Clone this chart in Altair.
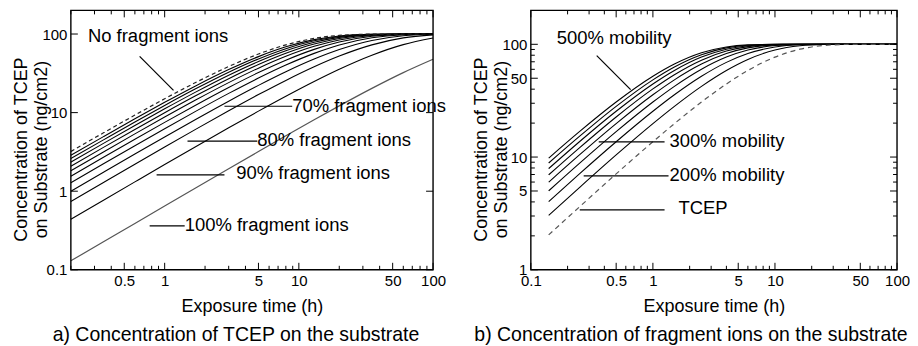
import altair as alt
import pandas as pd

FONT = "Liberation Sans"

# ---------------- left panel: TCEP on substrate ----------------
t_left = [0.2, 0.35, 0.6, 1, 1.7, 3, 5, 8, 13, 20, 35, 60, 100]
no_frag = [3.2, 5.53, 9.30, 15.01, 24.15, 38.60, 55.65, 72.77, 87.92, 96.13, 99.66, 100, 100]
frag000 = [2.86, 4.95, 8.34, 13.51, 21.86, 35.29, 51.59, 68.68, 84.84, 94.51, 99.38, 99.98, 100]
frag010 = [2.6, 4.50, 7.60, 12.34, 20.06, 32.64, 48.24, 65.13, 81.95, 92.82, 99.00, 99.96, 100]
frag020 = [2.34, 4.059, 6.86, 11.17, 18.23, 29.90, 44.68, 61.22, 78.55, 90.63, 98.41, 99.92, 100]
frag030 = [2.08, 3.612, 6.11, 9.98, 16.36, 27.04, 40.87, 56.86, 74.50, 87.78, 97.47, 99.82, 100]
frag040 = [1.82, 3.163, 5.361, 8.77, 14.45, 24.08, 36.82, 52.03, 69.70, 84.07, 95.98, 99.60, 100]
frag050 = [1.55, 2.697, 4.579, 7.51, 12.43, 20.89, 32.33, 46.47, 63.78, 79.03, 93.50, 99.08, 99.96]
frag060 = [1.28, 2.229, 3.791, 6.24, 10.37, 17.57, 27.53, 40.27, 56.71, 72.42, 89.50, 97.90, 99.84]
frag070 = [1.0, 1.743, 2.970, 4.901, 8.19, 13.99, 22.21, 33.10, 47.96, 63.40, 82.77, 95.10, 99.34]
frag080 = [0.74, 1.291, 2.204, 3.646, 6.12, 10.54, 16.95, 25.70, 38.30, 52.42, 72.75, 89.23, 97.56]
frag090 = [0.44, 0.7688, 1.314, 2.181, 3.679, 6.40, 10.44, 16.17, 24.92, 35.66, 53.78, 73.36, 88.97]
frag100 = [0.13, 0.2272, 0.3892, 0.6479, 1.099, 1.931, 3.198, 5.067, 8.10, 12.19, 20.35, 32.29, 47.80]

left_solid = {"0%": frag000, "10%": frag010, "20%": frag020, "30%": frag030, "40%": frag040,
              "50%": frag050, "60%": frag060, "70%": frag070, "80%": frag080, "90%": frag090}

# ---------------- right panel: fragment ions on substrate ----------------
t_right = [0.14, 0.25, 0.5, 1, 1.5, 2.5, 4, 6, 10, 16, 25, 40, 100]
tcep = [2.04, 3.61, 7.09, 13.67, 19.79, 30.75, 44.46, 58.6, 77.0, 90.5, 97.5, 99.72, 100]
mob150 = [3.04, 5.36, 10.44, 19.79, 28.16, 42.38, 58.6, 73.4, 89.0, 97.1, 99.6, 99.99, 100]
mob200 = [4.03, 7.09, 13.67, 25.47, 35.66, 52.05, 69.15, 82.87, 94.7, 99.1, 99.94, 100, 100]
mob250 = [5.01, 8.78, 16.79, 30.75, 42.38, 60.1, 77.0, 89.0, 97.47, 99.72, 99.99, 100, 100]
mob300 = [5.99, 10.44, 19.79, 35.66, 48.39, 66.8, 82.87, 92.9, 98.78, 99.91, 100, 100, 100]
mob350 = [6.95, 12.07, 22.68, 40.22, 53.78, 72.37, 87.23, 95.44, 99.42, 99.97, 100, 100, 100]
mob400 = [7.90, 13.67, 25.47, 44.46, 58.6, 77.0, 90.48, 97.07, 99.72, 100, 100, 100, 100]
mob450 = [8.85, 15.24, 28.16, 48.39, 62.93, 80.87, 92.9, 98.11, 99.87, 100, 100, 100, 100]
mob500 = [9.78, 16.79, 30.75, 52.05, 66.8, 84.08, 94.71, 98.78, 99.94, 100, 100, 100, 100]

right_solid = {"150%": mob150, "200%": mob200, "250%": mob250, "300%": mob300, "350%": mob350,
               "400%": mob400, "450%": mob450, "500%": mob500}

# ---------------- annotations ----------------
left_labels = ["No fragment ions", "70% fragment ions", "80% fragment ions", "90% fragment ions", "100% fragment ions"]
left_label_x = [0.268, 8.92, 4.90, 3.42, 1.41]
left_label_y = [93, 12.05, 4.5, 1.72, 0.37]
left_lead_x1 = [0.651, 2.79, 1.48, 0.871, 0.773]
left_lead_x2 = [1.164, 8.92, 4.90, 2.79, 1.41]
left_lead_y1 = [51.9, 12.05, 4.34, 1.61, 0.363]
left_lead_y2 = [19.2, 12.05, 4.34, 1.61, 0.363]

right_labels = ["500% mobility", "300% mobility", "200% mobility", "TCEP"]
right_label_x = [0.163, 1.37, 1.37, 1.62]
right_label_y = [114.7, 13.9, 7.0, 3.5]
right_lead_x1 = [0.3465, 0.36, 0.271, 0.2516]
right_lead_x2 = [0.657, 1.246, 1.343, 1.246]
right_lead_y1 = [79.4, 13.65, 6.81, 3.40]
right_lead_y2 = [39.6, 13.65, 6.81, 3.40]

# ---------------- ticks ----------------
left_x_major = [0.5, 1, 5, 10, 50, 100]
left_x_minor = [0.2, 0.3, 0.4, 0.6, 0.7, 0.8, 0.9, 2, 3, 4, 6, 7, 8, 9, 20, 30, 40, 60, 70, 80, 90]
left_y_major = [0.1, 1, 10, 100]
left_y_minor = []
right_x_major = [0.1, 0.5, 1, 5, 10, 50, 100]
right_x_minor = [0.2, 0.3, 0.4, 0.6, 0.7, 0.8, 0.9, 2, 3, 4, 6, 7, 8, 9, 20, 30, 40, 60, 70, 80, 90]
right_y_major = [1, 5, 10, 50, 100]
right_y_minor = [2, 3, 4, 6, 7, 8, 9, 20, 30, 40, 60, 70, 80, 90]

XTITLE = "Exposure time (h)"
YTITLE = ["Concentration of TCEP", "on Substrate (ng/cm2)"]


def long_df(t, series):
    rows = []
    for name, vals in series.items():
        for tt, v in zip(t, vals):
            rows.append({"t": tt, "c": v, "s": name})
    return pd.DataFrame(rows)


def panel(W, H, xdom, ydom, xvals, yvals, solid, dashed, gray, dash_color, dash_pattern,
          labels, lx, ly, lx1, lx2, ly1, ly2, xmaj, xmin, ymaj, ymin, caption, cap_dx, t):
    xs = alt.Scale(type="log", domain=xdom, nice=False)
    ys = alt.Scale(type="log", domain=ydom, nice=False)
    xaxis = alt.Axis(values=xvals, format="~g", title=XTITLE, grid=False, domain=False, ticks=False,
                     tickSize=0, labelPadding=4, labelFlush=False, labelOverlap=False,
                     labelFont=FONT, labelFontSize=15, labelColor="black",
                     titleFont=FONT, titleFontSize=18, titleFontWeight="normal", titleColor="black",
                     titleY=28, titleX=W / 2, titleBaseline="top", titleAlign="center")
    yaxis = alt.Axis(values=yvals, format="~g", title=YTITLE, grid=False, domain=False, ticks=False,
                     tickSize=0, labelPadding=4, labelFlush=False, labelOverlap=False,
                     labelFont=FONT, labelFontSize=15, labelColor="black",
                     titleFont=FONT, titleFontSize=18, titleFontWeight="normal", titleColor="black",
                     titleX=-40, titleY=H / 2 + 9, titleAngle=270, titleBaseline="bottom",
                     titleAlign="center", titleLineHeight=20)

    def X(f):
        return alt.X(f, type="quantitative", scale=xs, axis=xaxis)

    def Y(f):
        return alt.Y(f, type="quantitative", scale=ys, axis=yaxis)

    layers = []
    df_solid = long_df(t, solid)
    layers.append(alt.Chart(df_solid).mark_line(color="black", strokeWidth=1.1, interpolate="monotone")
                  .encode(x=X("t"), y=Y("c"), detail="s:N"))
    if gray is not None:
        layers.append(alt.Chart(long_df(t, {"g": gray})).mark_line(color="#555555", strokeWidth=1.2,
                                                                   interpolate="monotone")
                      .encode(x=X("t"), y=Y("c")))
    layers.append(alt.Chart(long_df(t, {"d": dashed})).mark_line(color=dash_color, strokeWidth=1.2,
                                                                 strokeDash=dash_pattern,
                                                                 interpolate="monotone")
                  .encode(x=X("t"), y=Y("c")))

    ann = pd.DataFrame({"label": labels, "lx": lx, "ly": ly, "x1": lx1, "x2": lx2, "y1": ly1, "y2": ly2})
    layers.append(alt.Chart(ann).mark_rule(color="black", strokeWidth=1.2)
                  .encode(x=X("x1"), x2="x2", y=Y("y1"), y2="y2"))
    layers.append(alt.Chart(ann).mark_text(align="left", baseline="middle", font=FONT, fontSize=18.5,
                                           color="black")
                  .encode(x=X("lx"), y=Y("ly"), text="label:N"))

    # inward ticks on all four sides
    for vals, L in ((xmaj, 7), (xmin, 4)):
        if vals:
            d = pd.DataFrame({"v": vals})
            layers.append(alt.Chart(d).mark_rule(color="black", strokeWidth=1)
                          .encode(x=X("v"), y=alt.value(H), y2=alt.value(H - L)))
            layers.append(alt.Chart(d).mark_rule(color="black", strokeWidth=1)
                          .encode(x=X("v"), y=alt.value(0), y2=alt.value(L)))
    for vals, L in ((ymaj, 7), (ymin, 4)):
        if vals:
            d = pd.DataFrame({"v": vals})
            layers.append(alt.Chart(d).mark_rule(color="black", strokeWidth=1)
                          .encode(y=Y("v"), x=alt.value(0), x2=alt.value(L)))
            layers.append(alt.Chart(d).mark_rule(color="black", strokeWidth=1)
                          .encode(y=Y("v"), x=alt.value(W), x2=alt.value(W - L)))

    # plot frame
    frame = pd.DataFrame({"k": [0]})
    layers.append(alt.Chart(frame).mark_rect(fill=None, filled=False, stroke="black", strokeWidth=1.4)
                  .encode(x=alt.value(0), x2=alt.value(W), y=alt.value(0), y2=alt.value(H)))

    return alt.layer(*layers).properties(
        width=W, height=H,
        view=alt.ViewBackground(stroke=None),
        title=alt.TitleParams(caption, orient="bottom", anchor="middle", fontSize=19.5,
                              fontWeight="normal", font=FONT, color="black", dx=cap_dx, offset=10))


left = panel(363, 260, [0.2, 100], [0.1, 200], left_x_major, left_y_major,
             left_solid, no_frag, frag100, "#222222", [4, 3],
             left_labels, left_label_x, left_label_y, left_lead_x1, left_lead_x2, left_lead_y1, left_lead_y2,
             left_x_major, left_x_minor, left_y_major, left_y_minor,
             "a) Concentration of TCEP on the substrate", -16, t_left)

right = panel(367, 260, [0.1, 100], [1, 200], right_x_major, right_y_major,
              right_solid, tcep, None, "#555555", [5, 4],
              right_labels, right_label_x, right_label_y, right_lead_x1, right_lead_x2, right_lead_y1,
              right_lead_y2, right_x_major, right_x_minor, right_y_major, right_y_minor,
              "b) Concentration of fragment ions on the substrate", -23, t_right)

chart = alt.hconcat(left, right, spacing=25).properties(
    padding={"left": 4, "top": 1, "right": 0, "bottom": 0},
    background="white"
)

chart.save("out.html", embed_options={"renderer": "svg", "actions": False})
